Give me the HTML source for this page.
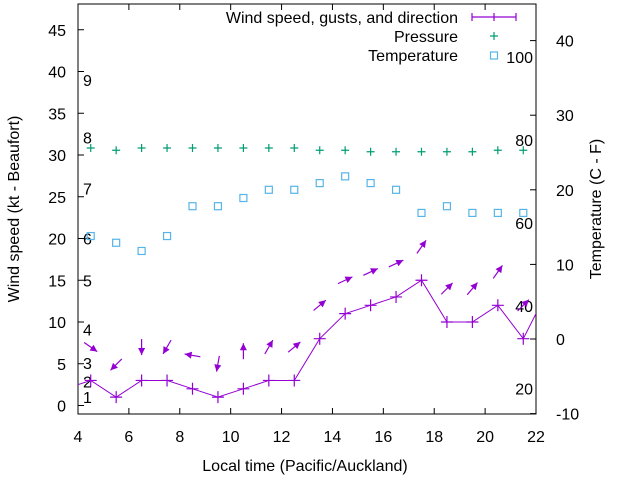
<!DOCTYPE html>
<html><head><meta charset="utf-8"><style>
body{margin:0;background:#fff}
svg{display:block;font-family:"Liberation Sans",sans-serif;font-size:16px}
</style></head><body>
<svg id="chart" width="640" height="480" viewBox="0 0 640 480"></svg>
<script>
const times=[4.5,5.5,6.5,7.5,8.5,9.5,10.5,11.5,12.5,13.5,14.5,15.5,16.5,17.5,18.5,19.5,20.5,21.5];
const windSpeed=[3,1,3,3,2,1,2,3,3,8,11,12,13,15,10,10,12,8];
const gusts=[7,4.9,7,7,6,5,6.5,7,7,12,15,16,17,19,14,14,16,12];
const windDir=[-35,-135,-90,-120,170,-100,90,60,40,40,25,25,25,55,45,50,55,45];
const pressure=[25.6,25.3,25.6,25.6,25.6,25.6,25.6,25.6,25.6,25.3,25.3,25.1,25.1,25.1,25.1,25.1,25.3,25.3];
const temperature=[13.8,12.9,11.8,13.8,17.8,17.8,18.9,20,20,20.9,21.8,20.9,20,16.9,17.8,16.9,16.9,16.9];
const xTicks=[4,6,8,10,12,14,16,18,20,22];
const yTicks=[0,5,10,15,20,25,30,35,40,45];
const y2Ticks=[-10,0,10,20,30,40];
const beaufort=[1,2,3,4,5,6,7,8,9];
const beaufortKt=[1,2.9,5.1,9.1,15,20,26,32.1,39];
const fahrenheit=[20,40,60,80,100];

const L=78,R=536,T=4,B=414;
const X=v=>L+(v-4)/18*(R-L);
const Y=v=>405.5-v*8.35;
const Y2=v=>339-v*7.46;
const NS="http://www.w3.org/2000/svg";
const svg=document.getElementById('chart');
function mk(tag,attrs,parent){const e=document.createElementNS(NS,tag);for(const k in attrs)e.setAttribute(k,attrs[k]);(parent||svg).appendChild(e);return e;}
function txt(x,y,s,anchor,parent){const t=mk('text',{x:x,y:y,'text-anchor':anchor||'start','fill':'#000'},parent);t.textContent=s;return t;}

const defs=mk('defs',{});
const cp=mk('clipPath',{id:'clip'},defs);
mk('rect',{x:L,y:T,width:R-L,height:B-T},cp);

// axes ticks
xTicks.forEach(v=>{
  const g=mk('g',{});
  
  
  mk('line',{x1:X(v),x2:X(v),y1:B,y2:B-6,stroke:'#000'},g);
  mk('line',{x1:X(v),x2:X(v),y1:T,y2:T+6,stroke:'#000'},g);
  txt(X(v),B+28,String(v),'middle',g);
});
yTicks.forEach(v=>{
  const g=mk('g',{});
  
  
  mk('line',{x1:L,x2:L+6,y1:Y(v),y2:Y(v),stroke:'#000'},g);
  txt(L-12,Y(v)+6,String(v),'end',g);
});
y2Ticks.forEach(v=>{
  const g=mk('g',{});
  
  
  mk('line',{x1:R,x2:R-6,y1:Y2(v),y2:Y2(v),stroke:'#000'},g);
  txt(R+4+16,Y2(v)+6,String(v),'start',g);
});
const border=mk('rect',{x:L,y:T,width:R-L,height:B-T,fill:'none',stroke:'#000'});



// beaufort labels
beaufort.forEach((b,i)=>{
  const t=txt(83,Y(beaufortKt[i])+6,String(b),'start');
  
  
});
fahrenheit.forEach(f=>{
  const t=txt(533,Y2((f-32)*5/9)+6,String(f),'end');
  
  
});

const plot=mk('g',{'clip-path':'url(#clip)'});
// wind line (extended to edges)
let pts=[[X(3.5),Y(2)]].concat(times.map((t,i)=>[X(t),Y(windSpeed[i])])).concat([[X(22.5),Y(14)]]);
const wl=mk('polyline',{points:pts.map(p=>p.join(',')).join(' '),fill:'none',stroke:'#9400d3','stroke-width':1},plot);


times.forEach((t,i)=>{
  const x=X(t),y=Y(windSpeed[i]);
  const p=mk('path',{d:`M${x-6},${y}h12M${x},${y-6}v12`,stroke:'#9400d3','stroke-width':1.2},plot);
  
  
});
// direction arrows
times.forEach((t,i)=>{
  const a=windDir[i]*Math.PI/180,len=16;
  const cx=X(t),cy=Y(gusts[i]);
  const dx=Math.cos(a)*len/2,dy=-Math.sin(a)*len/2;
  const x1=cx-dx,y1=cy-dy,x2=cx+dx,y2=cy+dy;
  const ux=dx/(len/2),uy=dy/(len/2);
  const hx=x2-ux*7,hy=y2-uy*7;
  const g=mk('g',{},plot);
  
  
  mk('line',{x1:x1,y1:y1,x2:x2,y2:y2,stroke:'#9400d3','stroke-width':1.2},g);
  mk('polygon',{points:`${x2},${y2} ${hx-uy*3.5},${hy+ux*3.5} ${hx+uy*3.5},${hy-ux*3.5}`,fill:'#9400d3'},g);
});
// pressure
times.forEach((t,i)=>{
  const x=X(t),y=Y2(pressure[i]);
  const p=mk('path',{d:`M${x-4},${y}h8M${x},${y-4}v8`,stroke:'#009e73','stroke-width':1.2},plot);
  
  
});
// temperature
times.forEach((t,i)=>{
  const x=X(t),y=Y2(temperature[i]);
  const r=mk('rect',{x:x-3.5,y:y-3.5,width:7,height:7,fill:'none',stroke:'#56b4e9','stroke-width':1.2},plot);
  
  
});

// legend
const lg=mk('g',{});


txt(458,23,'Wind speed, gusts, and direction','end',lg);
mk('path',{d:'M472,17h44M472,13v8M516,13v8M494,13v8',stroke:'#9400d3','stroke-width':1.2,fill:'none'},lg);
txt(458,42,'Pressure','end',lg);
mk('path',{d:'M490,36h8M494,32v8',stroke:'#009e73','stroke-width':1.2},lg);
txt(458,61,'Temperature','end',lg);
mk('rect',{x:490.5,y:52,width:7,height:7,fill:'none',stroke:'#56b4e9','stroke-width':1.2},lg);

// axis titles
const xt=txt(305,471,'Local time (Pacific/Auckland)','middle');


const yt=txt(0,0,'Wind speed (kt - Beaufort)','middle');
yt.setAttribute('transform','translate(19,209) rotate(-90)');


const y2t=txt(0,0,'Temperature (C - F)','middle');
y2t.setAttribute('transform','translate(601,209) rotate(-90)');


</script>
</body></html>
